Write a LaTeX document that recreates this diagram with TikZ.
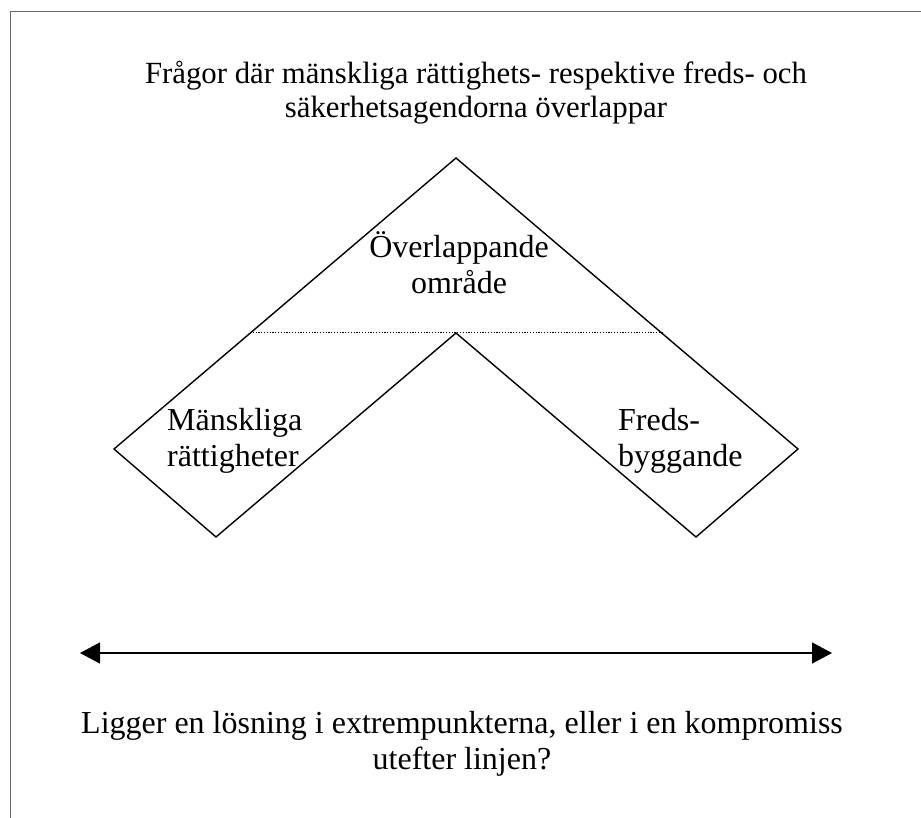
\documentclass[tikz,border=0pt]{standalone}
\usepackage{fontspec}
\setmainfont{Liberation Serif}
\usetikzlibrary{arrows.meta}
\begin{document}
\begin{tikzpicture}[x=1pt,y=-1pt,
  txt/.style={inner sep=0pt,font=\fontsize{32}{36}\selectfont},
  titletxt/.style={inner sep=0pt,font=\fontsize{30.8}{34}\selectfont},
  shapeline/.style={line width=1.4pt,line join=miter},
  frameline/.style={line width=1pt,draw=black!60},
  sepline/.style={line width=1pt,dash pattern=on 1.2pt off 1.6pt},
  dblarrow/.style={line width=1.5pt,{Triangle[length=20pt,width=21pt]}-{Triangle[length=20pt,width=21pt]}}]
\useasboundingbox (0,0) rectangle (921,818);
% frame
\coordinate (fbl) at (10,818);
\coordinate (ftl) at (10,12);
\coordinate (ftr) at (921,12);
\draw[frameline] (fbl) -- (ftl) -- (ftr);
% title (base anchor = last line baseline)
\node[titletxt,anchor=base,align=center] (title) at (476,118) {Frågor där mänskliga rättighets- respektive freds- och\\säkerhetsagendorna överlappar};
% chevron shape
\coordinate (top) at (456,158);
\coordinate (rc) at (798,449);
\coordinate (rb) at (696,537);
\coordinate (inner) at (456,333);
\coordinate (lb) at (216,537);
\coordinate (lc) at (114,449);
\draw[shapeline] (top) -- (rc) -- (rb) -- (inner) -- (lb) -- (lc) -- cycle;
\coordinate (dl) at (250,333);
\coordinate (dr) at (662,333);
\draw[sepline] (dl) -- (dr);
% labels
\node[txt,anchor=base,align=center] (overlap) at (459,294) {Överlappande\\område};
\node[txt,anchor=base west,align=left] (mr) at (167,466) {Mänskliga\\rättigheter};
\node[txt,anchor=base west,align=left] (fb) at (618,466) {Freds-\\byggande};
% arrow
\coordinate (al) at (80,653);
\coordinate (ar) at (832,653);
\draw[dblarrow] (al) -- (ar);
% question
\node[txt,anchor=base,align=center] (question) at (462,769) {Ligger en lösning i extrempunkterna, eller i en kompromiss\\utefter linjen?};
\end{tikzpicture}
\end{document}
